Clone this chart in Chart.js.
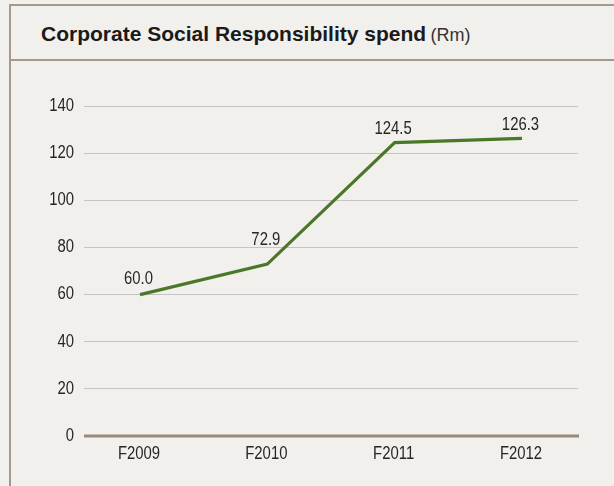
<!DOCTYPE html>
<html>
<head>
<meta charset="utf-8">
<script src="https://cdn.jsdelivr.net/npm/chart.js@4.4.0/dist/chart.umd.min.js"></script>
<style>
  html, body { margin:0; padding:0; background:#f2f0ec; width:614px; height:486px; overflow:hidden; }
  #frame { position:absolute; left:9px; top:4px; width:610px; height:490px;
           border-left:2px solid #a89888; border-top:2px solid #a89888; box-sizing:border-box; }
  #header { position:absolute; left:11px; top:6px; width:603px; height:55px;
            border-bottom:2px solid #a89888; box-sizing:border-box; }
  #title { position:absolute; left:41px; top:23px; font-family:"Liberation Sans", Arial, sans-serif;
           color:#1a1a1a; white-space:nowrap; line-height:22px; }
  #title b { font-size:21px; font-weight:bold; }
  #title span { font-size:18px; color:#333; }
  #wrap { position:absolute; left:0; top:62px; width:614px; height:424px; }
</style>
</head>
<body>
<div id="frame"></div>
<div id="header"></div>
<div id="title"><b>Corporate Social Responsibility spend</b> <span>(Rm)</span></div>
<div id="wrap"><canvas id="c" width="614" height="424"></canvas></div>
<script>
const categories = ["F2009", "F2010", "F2011", "F2012"];
const spend = [60.0, 72.9, 124.5, 126.3];
const valueLabels = ["60.0", "72.9", "124.5", "126.3"];
const yTicks = [0, 20, 40, 60, 80, 100, 120, 140];

const FONT = '17.5px "Liberation Sans", Arial, sans-serif';
const SX = 0.85;
const TEXT = '#262626';
const LABEL_LIFT = [11, 19, 8.5, 8.5];
const points = spend.map((v, i) => ({ x: i, y: v }));

function narrowText(ctx, str, x, y, align) {
  ctx.save();
  ctx.translate(x, y);
  ctx.scale(SX, 1);
  ctx.textAlign = align;
  ctx.fillText(str, 0, 0);
  ctx.restore();
}

const textPlugin = {
  id: 'narrowTexts',
  afterDatasetsDraw(chart) {
    const ctx = chart.ctx;
    ctx.save();
    ctx.font = FONT;
    ctx.fillStyle = TEXT;
    ctx.textBaseline = 'alphabetic';
    const meta = chart.getDatasetMeta(0);
    meta.data.forEach((pt, i) => {
      narrowText(ctx, valueLabels[i], pt.x - 1.5, pt.y - LABEL_LIFT[i], 'center');
    });
    ctx.textBaseline = 'middle';
    const ys = chart.scales.y;
    ys.ticks.forEach(t => {
      narrowText(ctx, String(t.value), ys.right - 10, ys.getPixelForValue(t.value), 'right');
    });
    const xs = chart.scales.x;
    xs.ticks.forEach(t => {
      narrowText(ctx, categories[t.value], xs.getPixelForValue(t.value) - 1, xs.top + 18, 'center');
    });
    ctx.restore();
  }
};

const axisPlugin = {
  id: 'baseAxis',
  afterDatasetsDraw(chart) {
    const ctx = chart.ctx;
    const y = chart.scales.y.getPixelForValue(0);
    const a = chart.chartArea;
    ctx.save();
    ctx.strokeStyle = '#9a8878';
    ctx.lineWidth = 3;
    ctx.beginPath();
    ctx.moveTo(a.left, y);
    ctx.lineTo(a.right + 1, y);
    ctx.stroke();
    ctx.restore();
  }
};

new Chart(document.getElementById('c'), {
  type: 'line',
  data: {
    datasets: [{
      data: points,
      borderColor: '#4a772a',
      borderWidth: 3.2,
      pointRadius: 0,
      tension: 0,
      fill: false
    }]
  },
  options: {
    responsive: false,
    animation: false,
    layout: { padding: { left: 0, right: 36, top: 44, bottom: 0 } },
    plugins: { legend: { display: false }, tooltip: { enabled: false } },
    scales: {
      x: {
        type: 'linear',
        min: -0.44,
        max: 3.44,
        afterBuildTicks(s) { s.ticks = categories.map((c, i) => ({ value: i })); },
        afterFit(s) { s.height = 50; },
        ticks: { display: false },
        grid: { display: false },
        border: { display: false }
      },
      y: {
        min: 0,
        max: 140,
        afterBuildTicks(s) { s.ticks = yTicks.map(v => ({ value: v })); },
        afterFit(s) { s.width = 84; },
        ticks: { display: false },
        grid: { color: '#c4c4c4', lineWidth: 1, drawTicks: false },
        border: { display: false }
      }
    }
  },
  plugins: [textPlugin, axisPlugin]
});
</script>
</body>
</html>
